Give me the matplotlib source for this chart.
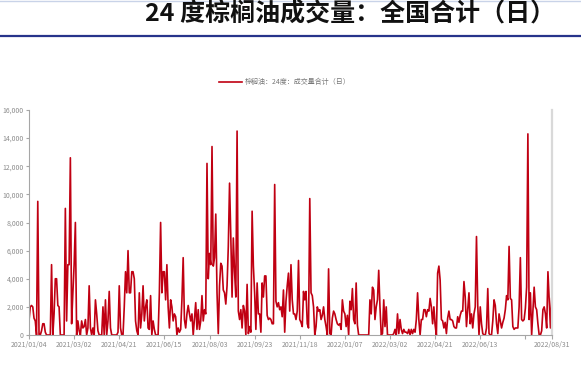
import numpy as np
import matplotlib
matplotlib.use("Agg")
import matplotlib.pyplot as plt
from matplotlib.ticker import FuncFormatter

plt.rcParams['font.family'] = ['Noto Sans CJK SC', 'DejaVu Sans']

# daily volume (thousand lots), one value per trading day
seg_a = [1.0, 2.0, 2.1, 2.0, 1.2, 1.0, 0.0, 9.5, 0.0, 0.0, 0.3, 0.8, 0.8, 0.2, 0.0, 0.0, 0.0, 0.0,
         5.0, 0.0, 1.5, 4.0, 4.0, 2.1, 2.0, 0.0, 0.0, 0.0, 0.0, 9.0, 1.0, 5.0, 5.0, 12.6, 0.8, 3.0]
seg_b = [5.0, 8.0, 0.0, 1.0, 0.3, 0.0, 1.0, 0.5, 0.6, 1.1, 0.0, 0.5, 3.5, 0.5, 0.0, 0.5, 0.0, 2.5,
         1.5, 0.3, 0.0, 0.0, 0.0, 2.0, 0.0, 2.5, 0.0, 1.0, 3.1, 0.5, 0.0, 0.0, 0.0, 0.0, 0.0, 0.2]
seg_c = [3.5, 0.5, 0.0, 0.0, 2.0, 4.5, 3.0, 6.0, 3.0, 3.0, 4.5, 4.5, 4.0, 1.0, 0.3, 0.0, 3.0, 0.5,
         1.5, 3.5, 1.0, 2.0, 2.5, 0.5, 0.4, 2.8, 0.0, 1.0, 0.4, 0.0, 0.0, 0.0, 3.0, 8.0, 3.0, 4.5]
seg_d = [4.5, 2.5, 5.0, 2.0, 0.5, 2.5, 2.0, 1.0, 1.5, 1.3, 0.0, 0.5, 0.2, 0.4, 2.5, 5.5, 1.1, 0.5,
         1.5, 2.1, 1.5, 1.0, 1.5, 0.0, 1.2, 2.3, 0.4, 1.8, 0.4, 1.0, 2.8, 1.0, 1.8, 1.5, 12.2, 4.0]
seg_e = [5.8, 5.0, 13.4, 4.9, 5.5, 8.6, 3.0, 0.1, 3.5, 5.1, 4.9, 3.2, 3.0, 2.2, 3.5, 6.3, 10.8, 7.0,
         2.7, 6.9, 4.5, 2.7, 14.5, 1.7, 1.1, 1.8, 0.5, 2.1, 1.7, 0.0, 3.6, 0.1, 0.6, 0.2, 8.8, 4.9]
seg_f = [3.0, 0.4, 3.7, 1.5, 1.5, 0.2, 3.7, 2.7, 4.2, 4.2, 1.4, 1.1, 1.2, 1.1, 0.8, 0.8, 10.7, 2.4,
         2.0, 2.3, 1.8, 2.0, 1.3, 3.2, 0.2, 2.4, 3.5, 4.4, 1.7, 5.0, 2.5, 1.5, 1.5, 1.1, 1.7, 5.3]
seg_g = [1.1, 0.9, 0.6, 3.1, 2.5, 3.1, 0.8, 0.5, 9.7, 3.0, 2.8, 2.0, 0.0, 0.6, 2.0, 1.7, 1.8, 1.1,
         1.4, 2.0, 1.1, 0.6, 0.0, 4.7, 0.1, 0.0, 1.2, 1.7, 1.5, 1.1, 0.8, 0.7, 0.8, 0.4, 2.5, 1.7]
seg_h = [1.5, 0.6, 1.4, 0.0, 2.4, 1.8, 3.3, 1.1, 0.8, 3.7, 0.7, 0.0, 0.0, 0.0, 0.0, 0.0, 0.0, 0.0,
         0.0, 0.0, 2.5, 1.5, 3.4, 3.2, 1.1, 2.0, 2.5, 4.6, 2.0, 0.0, 0.1, 2.5, 0.6, 2.0, 0.0, 0.0]
seg_i = [0.0, 0.0, 0.0, 0.1, 0.4, 0.0, 1.5, 0.1, 1.1, 0.4, 0.1, 0.4, 0.2, 0.2, 0.1, 0.4, 0.0, 0.4,
         0.1, 0.4, 0.2, 1.1, 3.0, 1.1, 0.0, 1.1, 1.1, 1.8, 1.8, 1.3, 1.8, 1.7, 2.6, 2.0, 0.8, 2.0]
seg_j = [0.7, 0.0, 4.4, 4.9, 3.9, 1.1, 1.0, 0.5, 0.9, 0.1, 1.2, 1.7, 1.1, 1.1, 1.0, 0.6, 0.5, 0.5,
         1.3, 0.9, 1.4, 1.7, 1.7, 3.8, 2.7, 0.6, 1.8, 3.0, 0.8, 1.5, 0.5, 1.5, 2.0, 7.0, 2.1, 0.0]
seg_k = [2.0, 0.8, 0.1, 0.0, 0.0, 0.5, 3.3, 0.1, 0.0, 0.0, 1.0, 2.5, 2.1, 0.8, 0.1, 1.5, 1.0, 0.5,
         0.9, 1.2, 1.8, 2.8, 2.5, 6.3, 2.6, 2.5, 0.6, 0.4, 0.5, 0.5, 0.5, 2.0, 5.5, 1.1, 1.0, 1.1]
seg_l = [1.9, 3.4, 14.3, 1.1, 3.0, 0.0, 1.7, 3.4, 2.0, 1.8, 0.8, 0.0, 0.0, 0.3, 1.8, 2.0, 1.5, 0.5,
         4.5, 2.5, 0.5, 2.6]

tick_pos = [0, 36, 72, 108, 144, 180, 216, 252, 288, 324, 360, 396, 417]
tick_labels = ['2021/01/04', '2021/03/02', '2021/04/21', '2021/06/15', '2021/08/03',
               '2021/09/23', '2021/11/18', '2022/01/07', '2022/03/02', '2022/04/21',
               '2022/06/13', '', '2022/08/31']

volume = np.array(seg_a + seg_b + seg_c + seg_d + seg_e + seg_f + seg_g
                  + seg_h + seg_i + seg_j + seg_k + seg_l) * 1000
idx = np.arange(len(volume))

W, H = 581, 379
fig = plt.figure(figsize=(W / 100, H / 100), dpi=100)

# header
fig.text(350 / W, 1 - 14.5 / H, '24 度棕榈油成交量：全国合计（日）', ha='center', va='center',
         fontsize=18, color='#111111', fontweight='bold')
fig.add_artist(plt.Line2D([0, 1], [1 - 36 / H, 1 - 36 / H], color='#27348b', lw=1.6))
fig.add_artist(plt.Line2D([0, 1], [1 - 0.6 / H, 1 - 0.6 / H], color='#c9d3e8', lw=1.0))

ax = fig.add_axes([29 / W, 1 - 335 / H, 522.7 / W, 225 / H])
ax.plot(idx, volume, color='#c00012', lw=1.2, label='棕榈油：24度：成交量合计（日）')
ax.axvline(idx[-1], color='#d9d9d9', lw=1.6, clip_on=False)

ax.set_xlim(0, idx[-1])
ax.set_ylim(0, 16000)
ax.set_yticks(np.arange(0, 16001, 2000))
ax.yaxis.set_major_formatter(FuncFormatter(lambda v, p: f'{v:,.0f}'))
ax.set_xticks(tick_pos)
ax.set_xticklabels(tick_labels)

for s in ['top', 'right']:
    ax.spines[s].set_visible(False)
for s in ['left', 'bottom']:
    ax.spines[s].set_color('#a6a6a6')
    ax.spines[s].set_linewidth(0.8)
ax.tick_params(axis='both', colors='#a6a6a6', labelcolor='#8c8c8c', labelsize=5, width=0.8)
ax.tick_params(axis='y', length=2.2, pad=1.5)
ax.tick_params(axis='x', length=3, pad=1.5)

ax.legend(loc='center', bbox_to_anchor=(285 / W, 1 - 82 / H), bbox_transform=fig.transFigure,
          frameon=False, fontsize=5, handlelength=3.2, handletextpad=0.45, labelcolor='#777777')

fig.savefig('out.png', dpi=100)
